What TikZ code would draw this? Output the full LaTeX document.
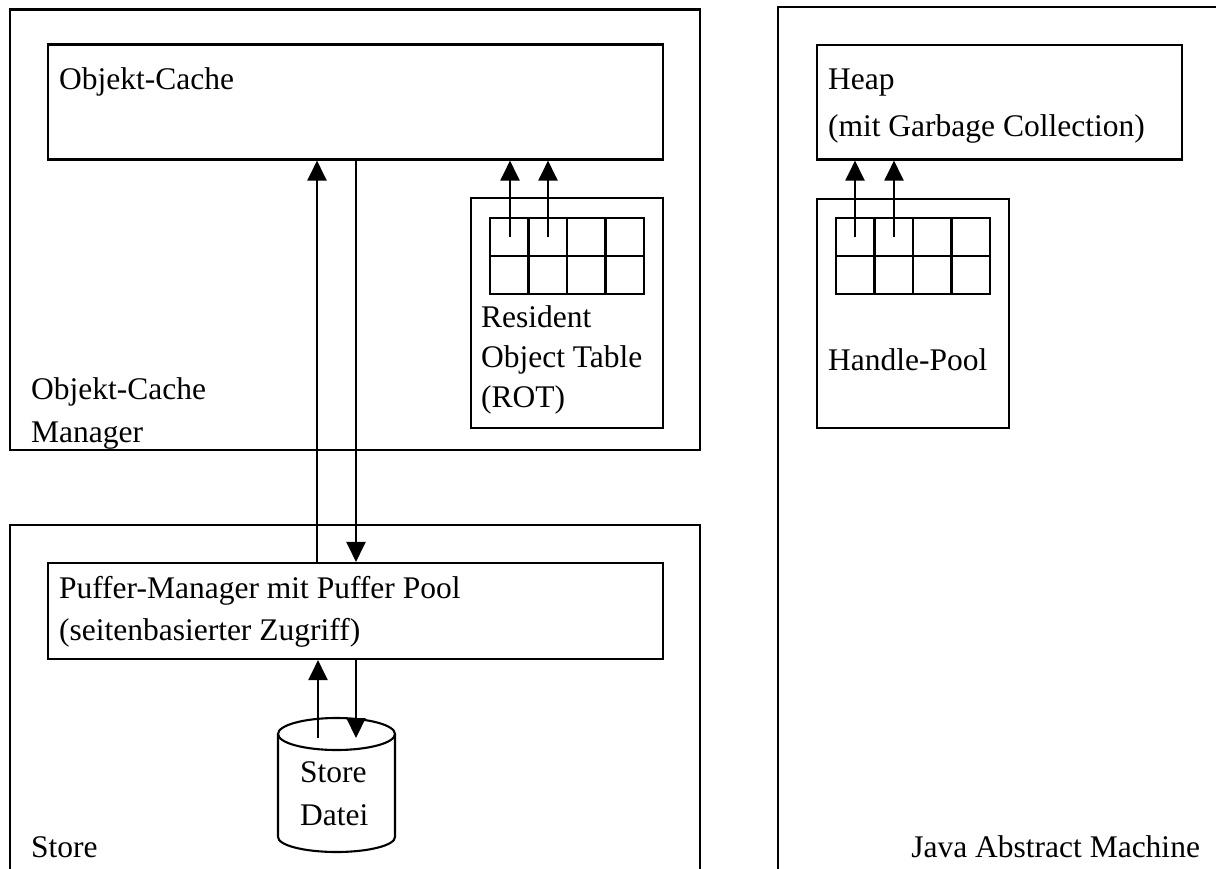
\documentclass[tikz,border=0pt]{standalone}
\usepackage{fontspec}
\setmainfont{Liberation Serif}
\usetikzlibrary{arrows.meta,fit}
\begin{document}
\begin{tikzpicture}[x=0.5pt,y=-0.5pt,
  line width=1.05pt,
  box/.style={draw, inner sep=0pt, fit={#1}},
  lbl/.style={anchor=base west, inner sep=0pt, font=\fontsize{15.75}{20}\selectfont},
  rlbl/.style={anchor=base east, inner sep=0pt, font=\fontsize{15.75}{20}\selectfont},
  arr/.style={-{Triangle[width=9.5pt,length=10pt]}}]
\useasboundingbox (0,0) rectangle (1216,868);
\clip (0,0) rectangle (1216,868);

% outer frames (Store and JAM run past the lower/right border)
\node[box={(10,9.5) (700,450)}] (ocm) {};
\node[box={(10,525) (700,900)}] (store) {};
\node[box={(778,7) (1250,900)}] (jam) {};

% Objekt-Cache Manager side
\node[box={(48,44.5) (663,159.5)}] (oc) {};
\node[lbl] (octxt) at (58,89) {Objekt-Cache};
\node[box={(471,198) (663,428)}] (rot) {};
\node[box={(490,218) (644,294)}] (rotg) {};
\foreach \xx in {528.5,567,605.5} \draw (\xx,218) -- (\xx,294);
\draw (490,256) -- (644,256);
\node[lbl] (rotA) at (480,327) {Resident};
\node[lbl] (rotB) at (480,367) {Object Table};
\node[lbl] (rotC) at (480,407) {(ROT)};
\node[lbl] (ocmA) at (30,399) {Objekt-Cache};
\node[lbl] (ocmB) at (30,442) {Manager};

\coordinate (rc1) at (510,237);
\coordinate (rc2) at (548,237);
\draw[arr] (rc1) -- (rc1 |- oc.south);
\draw[arr] (rc2) -- (rc2 |- oc.south);

% Store side
\node[box={(48,563) (663,659)}] (pm) {};
\node[lbl] (pmA) at (58,598) {Puffer-Manager mit Puffer Pool};
\node[lbl] (pmB) at (58,640) {(seitenbasierter Zugriff)};
\node[lbl] (storetxt) at (30,857) {Store};

\coordinate (upx) at (317,0);
\coordinate (dnx) at (356,0);
\draw[arr] (upx |- pm.north) -- (upx |- oc.south);
\draw[arr] (dnx |- oc.south) -- (dnx |- pm.north);

% store file cylinder
\draw (278,734) -- (278,837) arc[start angle=180,end angle=0,x radius=58.5,y radius=15] -- (395,734);
\draw (336.5,734) ellipse[x radius=58.5,y radius=16];
\node[lbl] (sfA) at (299,782) {Store};
\node[lbl] (sfB) at (299,825) {Datei};
\coordinate (cu) at (318,738);
\coordinate (cd) at (356,738);
\draw[arr] (cu) -- (cu |- pm.south);
\draw[arr] (cd |- pm.south) -- (cd);

% Java Abstract Machine side
\node[box={(817,45) (1182,159.5)}] (heap) {};
\node[lbl] (heapA) at (827,89) {Heap};
\node[lbl] (heapB) at (827,136) {(mit Garbage Collection)};
\node[box={(817,199) (1009,428)}] (hp) {};
\node[box={(836,218) (990,294)}] (hpg) {};
\foreach \xx in {874.5,913,951.5} \draw (\xx,218) -- (\xx,294);
\draw (836,256) -- (990,256);
\node[lbl] (hptxt) at (827,370) {Handle-Pool};
\coordinate (hc1) at (855,237);
\coordinate (hc2) at (894,237);
\draw[arr] (hc1) -- (hc1 |- heap.south);
\draw[arr] (hc2) -- (hc2 |- heap.south);
\node[rlbl] (jamtxt) at (1201,857) {Java Abstract Machine};
\end{tikzpicture}
\end{document}
